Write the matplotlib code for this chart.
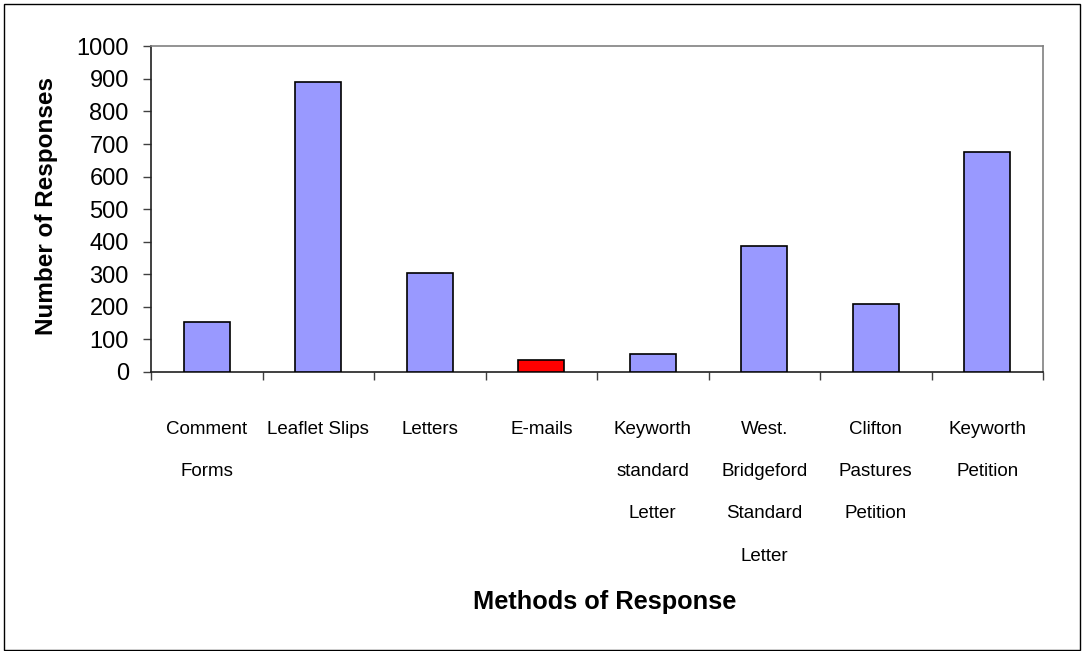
import matplotlib
matplotlib.use("Agg")
import matplotlib.pyplot as plt
from matplotlib.patches import Rectangle

categories = [
    "Comment\nForms",
    "Leaflet Slips",
    "Letters",
    "E-mails",
    "Keyworth\nstandard\nLetter",
    "West.\nBridgeford\nStandard\nLetter",
    "Clifton\nPastures\nPetition",
    "Keyworth\nPetition",
]
responses = [152, 890, 305, 36, 54, 386, 208, 674]
bar_colors = ["#9999FF", "#9999FF", "#9999FF", "#FF0000",
              "#9999FF", "#9999FF", "#9999FF", "#9999FF"]
y_ticks = [0, 100, 200, 300, 400, 500, 600, 700, 800, 900, 1000]

plt.rcParams["font.family"] = ["Liberation Sans", "DejaVu Sans"]

W, H = 1085, 651
fig = plt.figure(figsize=(W / 100, H / 100), dpi=100)

# outer chart frame
fig.patches.append(Rectangle((4 / W, 1 - 650 / H), (1080 - 4) / W, (650 - 4) / H,
                             transform=fig.transFigure, fill=False,
                             edgecolor="black", linewidth=1.0))

left, right, top, bottom = 151, 1043, 46.3, 372
ax = fig.add_axes([left / W, 1 - bottom / H, (right - left) / W, (bottom - top) / H])

x = list(range(len(categories)))
ax.bar(x, responses, width=0.41, color=bar_colors, edgecolor="black",
       linewidth=1.2, zorder=3)

ax.set_xlim(-0.5, len(categories) - 0.5)
ax.set_ylim(0, 1000)
ax.set_yticks(y_ticks)
ax.set_yticklabels([str(v) for v in y_ticks], fontsize=17)
ax.tick_params(axis="y", direction="out", length=6, width=1.0, color="#404040", pad=10)

# category boundaries carry the x ticks; labels sit at the bar centres
ax.set_xticks([i - 0.5 for i in range(len(categories) + 1)])
ax.set_xticklabels([])
ax.tick_params(axis="x", which="major", direction="out", length=6, width=1.0, color="#404040")
ax.set_xticks(x, minor=True)
ax.set_xticklabels(categories, minor=True, fontsize=13.5, linespacing=2.95, va="top")
ax.tick_params(axis="x", which="minor", length=0, pad=35)

for side in ("top", "right"):
    ax.spines[side].set_color("#808080")
    ax.spines[side].set_linewidth(1.2)
for side in ("left", "bottom"):
    ax.spines[side].set_color("#202020")
    ax.spines[side].set_linewidth(1.2)

ax.set_ylabel("Number of Responses", fontsize=17.5, fontweight="bold")
ax.yaxis.set_label_coords(-(151 - 58) / (right - left), 0.51)
fig.text(605 / W, 1 - 602 / H, "Methods of Response",
         fontsize=18.3, fontweight="bold", ha="center", va="center")

fig.savefig("out.png", dpi=100)
